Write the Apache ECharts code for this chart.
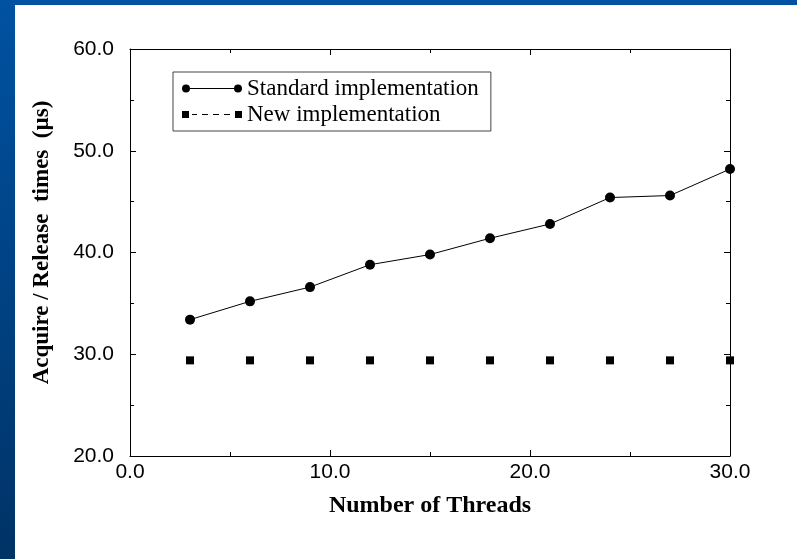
<!DOCTYPE html>
<html>
<head>
<meta charset="utf-8">
<script src="https://cdn.jsdelivr.net/npm/echarts@6/dist/echarts.min.js"></script>
<style>html,body{margin:0;padding:0;}#c{width:797px;height:559px;}</style>
</head>
<body>
<div id="c"></div>
<script>
var threads = [3, 6, 9, 12, 15, 18, 21, 24, 27, 30];
var standardTimes = [33.4, 35.2, 36.6, 38.8, 39.8, 41.4, 42.8, 45.4, 45.6, 48.2];
var newTimes = [29.4, 29.4, 29.4, 29.4, 29.4, 29.4, 29.4, 29.4, 29.4, 29.4];
var seriesNames = ['Standard implementation', 'New implementation'];

function pairs(xs, ys) { return xs.map(function (x, i) { return [x, ys[i]]; }); }

var chart = echarts.init(document.getElementById('c'));
var fmt = function (v) { return v.toFixed(1); };
var iconStd = 'path://M0,4 a4,4 0 1,0 8,0 a4,4 0 1,0 -8,0 Z M52,4 a4,4 0 1,0 8,0 a4,4 0 1,0 -8,0 Z M8,3.5 L52,3.5 L52,4.5 L8,4.5 Z';
var iconNew = 'path://M0,0.5 L7,0.5 L7,7.5 L0,7.5 Z M53,0.5 L60,0.5 L60,7.5 L53,7.5 Z M10,3.5 L15,3.5 L15,4.5 L10,4.5 Z M20,3.5 L26,3.5 L26,4.5 L20,4.5 Z M31,3.5 L37,3.5 L37,4.5 L31,4.5 Z M42,3.5 L48,3.5 L48,4.5 L42,4.5 Z';

chart.setOption({
  animation: false,
  backgroundColor: new echarts.graphic.LinearGradient(0, 0, 0, 1, [
    { offset: 0, color: '#0052a2' }, { offset: 1, color: '#003366' }
  ]),
  graphic: [{ type: 'rect', z: -100, shape: { x: 15, y: 5, width: 782, height: 554 }, style: { fill: '#ffffff' } }],
  grid: { left: 130, right: 67, top: 49, bottom: 103, show: false },
  legend: {
    orient: 'vertical', left: 173, top: 72,
    padding: [5, 12, 5, 9],
    borderColor: '#444', borderWidth: 1,
    itemWidth: 60, itemHeight: 8, itemGap: 3,
    textStyle: { fontFamily: 'Liberation Serif', fontSize: 23, color: '#000' },
    data: [
      { name: seriesNames[0], icon: iconStd, itemStyle: { color: '#000' } },
      { name: seriesNames[1], icon: iconNew, itemStyle: { color: '#000' } }
    ]
  },
  xAxis: [{
    type: 'value', min: 0, max: 30, interval: 10,
    name: 'Number of Threads', nameLocation: 'middle', nameGap: 38,
    nameTextStyle: { fontFamily: 'Liberation Serif', fontWeight: 'bold', fontSize: 24, color: '#000' },
    axisLine: { show: true, onZero: false, lineStyle: { color: '#000', width: 1 } },
    axisTick: { show: true, inside: true, length: 6, lineStyle: { color: '#000' } },
    minorTick: { show: true, splitNumber: 2, length: 4, lineStyle: { color: '#000' } },
    splitLine: { show: false },
    axisLabel: { formatter: fmt, fontFamily: 'Liberation Sans', fontSize: 21, color: '#000', margin: 6 }
  }, {
    type: 'value', min: 0, max: 30, interval: 10, position: 'top',
    axisLine: { show: true, onZero: false, lineStyle: { color: '#000', width: 1 } },
    axisTick: { show: true, inside: true, length: 6, lineStyle: { color: '#000' } },
    minorTick: { show: true, splitNumber: 2, length: 4, lineStyle: { color: '#000' } },
    splitLine: { show: false }, axisLabel: { show: false }
  }],
  yAxis: [{
    type: 'value', min: 20, max: 60, interval: 10,
    name: 'Acquire / Release  times  (\u00b5s)', nameLocation: 'middle', nameGap: 76,
    nameTextStyle: { fontFamily: 'Liberation Serif', fontWeight: 'bold', fontSize: 23, color: '#000', padding: [0, 0, 0, 20] },
    axisLine: { show: true, onZero: false, lineStyle: { color: '#000', width: 1 } },
    axisTick: { show: true, inside: true, length: 6, lineStyle: { color: '#000' } },
    minorTick: { show: true, splitNumber: 2, length: 4, lineStyle: { color: '#000' } },
    splitLine: { show: false },
    axisLabel: { formatter: fmt, fontFamily: 'Liberation Sans', fontSize: 21, color: '#000', margin: 16 }
  }, {
    type: 'value', min: 20, max: 60, interval: 10, position: 'right',
    axisLine: { show: true, onZero: false, lineStyle: { color: '#000', width: 1 } },
    axisTick: { show: true, inside: true, length: 6, lineStyle: { color: '#000' } },
    minorTick: { show: true, splitNumber: 2, length: 4, lineStyle: { color: '#000' } },
    splitLine: { show: false }, axisLabel: { show: false }
  }],
  series: [{
    name: seriesNames[0], type: 'line', data: pairs(threads, standardTimes),
    symbol: 'circle', symbolSize: 10,
    itemStyle: { color: '#000' }, lineStyle: { color: '#000', width: 1 }
  }, {
    name: seriesNames[1], type: 'line', data: pairs(threads, newTimes),
    symbol: 'rect', symbolSize: 8,
    itemStyle: { color: '#000' }, lineStyle: { color: '#000', width: 1, type: 'dashed', opacity: 0 }
  }]
});
</script>
</body>
</html>
